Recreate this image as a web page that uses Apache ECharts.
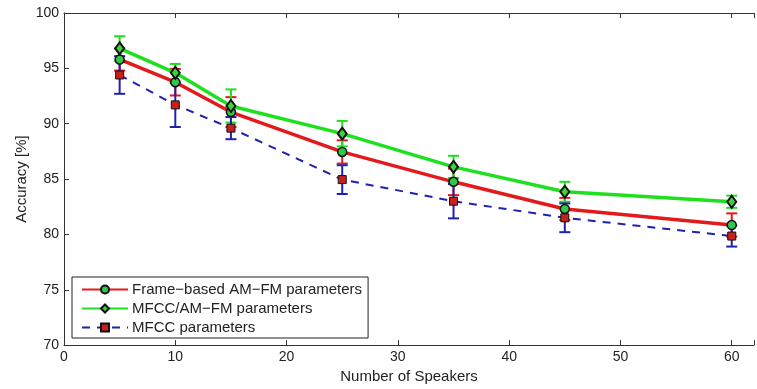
<!DOCTYPE html>
<html>
<head>
<meta charset="utf-8">
<script src="https://cdn.jsdelivr.net/npm/echarts@6/dist/echarts.min.js"></script>
<style>
  html, body { margin: 0; padding: 0; background: #fff; }
  #chart { width: 757px; height: 389px; }
</style>
</head>
<body>
<div id="chart"></div>
<script>
// number of speakers
const speakers = [5, 10, 15, 25, 35, 45, 60];

// Frame-based AM-FM parameters
const frameMean = [95.8, 93.75, 91.05, 87.45, 84.75, 82.3, 80.85];
const frameErr  = [1.0, 1.2, 1.35, 1.05, 1.2, 1.0, 1.05];

// MFCC/AM-FM parameters
const comboMean = [96.8, 94.6, 91.6, 89.1, 86.1, 83.85, 82.95];
const comboErr  = [1.1, 0.8, 1.5, 1.15, 1.0, 0.9, 0.55];

// MFCC parameters
const mfccMean = [94.4, 91.7, 89.6, 84.95, 83.0, 81.5, 79.85];
const mfccErr  = [1.7, 2.0, 1.0, 1.3, 1.55, 1.3, 0.95];

const yTicks = [70, 75, 80, 85, 90, 95, 100];
const xTicks = [0, 10, 20, 30, 40, 50, 60];

const RED = '#e3191c';
const GREEN = '#1fe01f';
const BLUE = '#2121b0';
const FONT = 'Liberation Sans';

function pairs(xs, ys) {
  return xs.map((x, i) => [x, ys[i]]);
}

function errData(xs, mean, err) {
  return xs.map((x, i) => [x, mean[i] - err[i], mean[i] + err[i]]);
}

function errorBars(color, data) {
  return {
    type: 'custom',
    data: data,
    encode: { x: 0, y: [1, 2] },
    z: 3,
    silent: true,
    renderItem: function (params, api) {
      const lo = api.coord([api.value(0), api.value(1)]);
      const hi = api.coord([api.value(0), api.value(2)]);
      const w = 5.5;
      const style = { stroke: color, lineWidth: 2, fill: null };
      return {
        type: 'group',
        children: [
          { type: 'line', shape: { x1: lo[0], y1: lo[1], x2: hi[0], y2: hi[1] }, style: style },
          { type: 'line', shape: { x1: lo[0] - w, y1: lo[1], x2: lo[0] + w, y2: lo[1] }, style: style },
          { type: 'line', shape: { x1: hi[0] - w, y1: hi[1], x2: hi[0] + w, y2: hi[1] }, style: style }
        ]
      };
    }
  };
}

const chart = echarts.init(document.getElementById('chart'));

const option = {
  backgroundColor: '#fff',
  animation: false,
  textStyle: { fontFamily: FONT },
  grid: { left: 64, right: 0, top: 13, bottom: 41 },
  xAxis: [{
    type: 'value',
    min: 0,
    max: 62,
    interval: 10,
    name: 'Number of Speakers',
    nameLocation: 'middle',
    nameGap: 23,
    nameTextStyle: { fontSize: 15, color: '#222', fontFamily: FONT },
    axisLine: { show: true, lineStyle: { color: '#333', width: 1 } },
    axisTick: { show: true, inside: true, length: 5, lineStyle: { color: '#333' } },
    axisLabel: {
      fontSize: 14, color: '#222', fontFamily: FONT, margin: 5,
      formatter: v => (xTicks.indexOf(v) >= 0 ? String(v) : '')
    },
    splitLine: { show: false }
  }, {
    type: 'value',
    position: 'top',
    min: 0,
    max: 62,
    interval: 10,
    axisLine: { show: true, lineStyle: { color: '#333', width: 1 } },
    axisTick: { show: true, inside: true, length: 5, lineStyle: { color: '#333' } },
    axisLabel: { show: false },
    splitLine: { show: false }
  }],
  yAxis: {
    type: 'value',
    min: yTicks[0],
    max: yTicks[yTicks.length - 1],
    interval: 5,
    name: 'Accuracy [%]',
    nameLocation: 'middle',
    nameGap: 35,
    nameMoveOverlap: false,
    nameTextStyle: { fontSize: 15, color: '#222', fontFamily: FONT },
    axisLine: { show: true, lineStyle: { color: '#333', width: 1 } },
    axisTick: { show: true, inside: true, length: 5, lineStyle: { color: '#333' } },
    axisLabel: { fontSize: 14, color: '#222', fontFamily: FONT, margin: 5 },
    splitLine: { show: false }
  },
  legend: {
    orient: 'vertical',
    left: 72,
    top: 277,
    data: ['Frame\u2212based AM\u2212FM parameters', 'MFCC/AM\u2212FM parameters', 'MFCC parameters'],
    itemWidth: 46,
    itemHeight: 10,
    itemGap: 4,
    padding: [5, 6, 3, 9],
    borderColor: '#222',
    borderWidth: 1,
    backgroundColor: '#fff',
    textStyle: { fontSize: 15, color: '#222', fontFamily: FONT, padding: [0, 0, 0, -1] }
  },
  series: [
    errorBars(RED, errData(speakers, frameMean, frameErr)),
    errorBars(GREEN, errData(speakers, comboMean, comboErr)),
    errorBars(BLUE, errData(speakers, mfccMean, mfccErr)),
    {
      name: 'MFCC parameters',
      type: 'line',
      data: pairs(speakers, mfccMean),
      z: 4,
      symbol: 'rect',
      symbolSize: 8,
      lineStyle: { color: BLUE, width: 2, type: [8, 7] },
      itemStyle: { color: '#c8201c', borderColor: '#111', borderWidth: 1 }
    },
    {
      name: 'Frame\u2212based AM\u2212FM parameters',
      type: 'line',
      data: pairs(speakers, frameMean),
      z: 5,
      symbol: 'circle',
      symbolSize: 9,
      lineStyle: { color: RED, width: 3.5 },
      itemStyle: { color: '#2fc84a', borderColor: '#111', borderWidth: 1.5 }
    },
    {
      name: 'MFCC/AM\u2212FM parameters',
      type: 'line',
      data: pairs(speakers, comboMean),
      z: 6,
      symbol: 'diamond',
      symbolSize: [9, 12],
      lineStyle: { color: GREEN, width: 3.5 },
      itemStyle: { color: '#3fd040', borderColor: '#111', borderWidth: 2 }
    }
  ]
};

chart.setOption(option);
</script>
</body>
</html>
